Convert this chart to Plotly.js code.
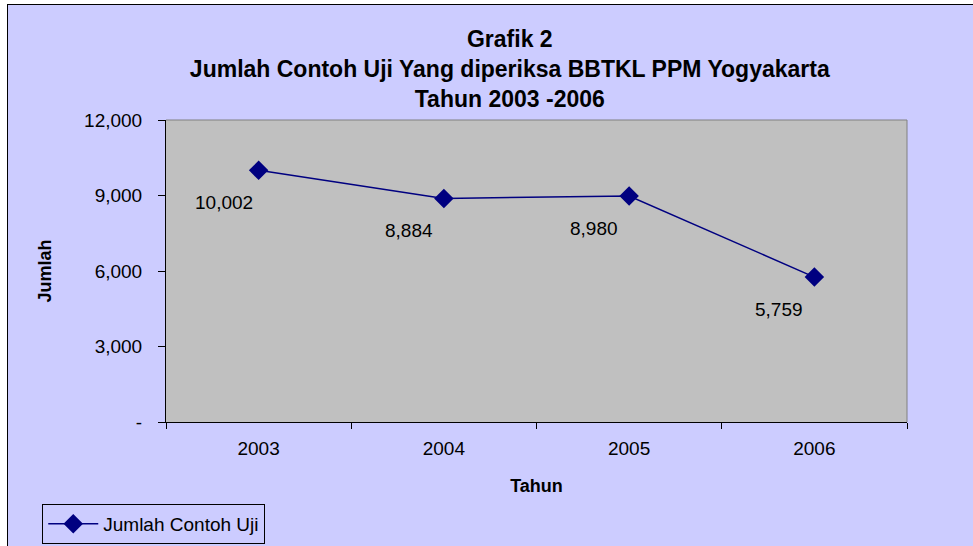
<!DOCTYPE html>
<html>
<head>
<meta charset="utf-8">
<script src="https://cdn.plot.ly/plotly-3.0.1.min.js"></script>
<style>
  html, body { margin: 0; padding: 0; background: #ffffff; width: 973px; height: 546px; overflow: hidden; }
  #frame { position: absolute; left: 7px; top: 4px; width: 970px; height: 546px;
           border-left: 2px solid #000; border-top: 2px solid #000; box-sizing: border-box; background: #CCCCFF; }
  #chart { position: absolute; left: 8px; top: 5px; width: 965px; height: 541px; }
</style>
</head>
<body>
<div id="frame"></div>
<div id="chart"></div>
<script>
const years = ['2003', '2004', '2005', '2006'];
const jumlahContohUji = [10002, 8884, 8980, 5759];
const seriesName = 'Jumlah Contoh Uji';
const yTickVals = [0, 3000, 6000, 9000, 12000];
const yTickText = ['-', '3,000', '6,000', '9,000', '12,000'];
const titleLines = ['Grafik 2', 'Jumlah Contoh Uji Yang diperiksa BBTKL PPM Yogyakarta', 'Tahun 2003 -2006'];

const fmt = v => String(v).replace(/\B(?=(\d{3})+(?!\d))/g, ',');
const FONT = 'Liberation Sans, Arial, sans-serif';

const trace = {
  type: 'scatter',
  mode: 'lines+markers',
  x: years,
  y: jumlahContohUji,
  name: seriesName,
  line: { color: '#000080', width: 1.5 },
  marker: { symbol: 'diamond', size: 15, color: '#000080' },
  cliponaxis: false
};

const labelAnnotations = jumlahContohUji.map((v, i) => ({
  x: i, y: v, xref: 'x', yref: 'y',
  text: fmt(v), showarrow: false,
  xshift: -35, yshift: -32,
  font: { family: FONT, size: 19, color: '#000' }
}));

const layout = {
  width: 965, height: 541,
  paper_bgcolor: '#CCCCFF',
  plot_bgcolor: '#C0C0C0',
  margin: { l: 158, r: 66, t: 115, b: 124, autoexpand: false },
  font: { family: FONT, color: '#000' },
  title: {
    text: titleLines.join('<br>'),
    font: { family: FONT, size: 23, weight: 'bold', color: '#000' },
    x: 0.52, xref: 'container', xanchor: 'center',
    y: 0.922, yref: 'container', yanchor: 'top'
  },
  xaxis: {
    type: 'category',
    range: [-0.5, 3.5],
    showline: true, linecolor: '#000', linewidth: 1,
    ticks: 'outside', tickson: 'boundaries', ticklen: 6, tickcolor: '#000',
    showgrid: false, zeroline: false,
    ticklabelstandoff: 9,
    tickfont: { family: FONT, size: 19 },
    title: { text: 'Tahun', font: { family: FONT, size: 18, weight: 'bold' }, standoff: 21 }
  },
  yaxis: {
    range: [0, 12000],
    tickmode: 'array', tickvals: yTickVals, ticktext: yTickText,
    showline: true, linecolor: '#000', linewidth: 1,
    ticks: 'outside', ticklen: 7, tickcolor: '#000',
    showgrid: false, zeroline: false,
    ticklabelstandoff: 12,
    tickfont: { family: FONT, size: 19 },
    title: { text: 'Jumlah', font: { family: FONT, size: 18, weight: 'bold' }, standoff: 27 }
  },
  showlegend: true,
  legend: {
    x: -0.167, xanchor: 'left', y: -0.2715, yanchor: 'top',
    orientation: 'h',
    bgcolor: 'rgba(0,0,0,0)', bordercolor: '#000', borderwidth: 1,
    font: { family: FONT, size: 19 },
    itemwidth: 50
  },
  shapes: [
    { type: 'line', xref: 'paper', yref: 'paper', x0: 0, x1: 1, y0: 1, y1: 1, line: { color: '#808080', width: 1 } },
    { type: 'line', xref: 'paper', yref: 'paper', x0: 1, x1: 1, y0: 0, y1: 1, line: { color: '#808080', width: 1 } }
  ],
  annotations: labelAnnotations
};

Plotly.newPlot('chart', [trace], layout, { displayModeBar: false, staticPlot: true });
</script>
</body>
</html>
